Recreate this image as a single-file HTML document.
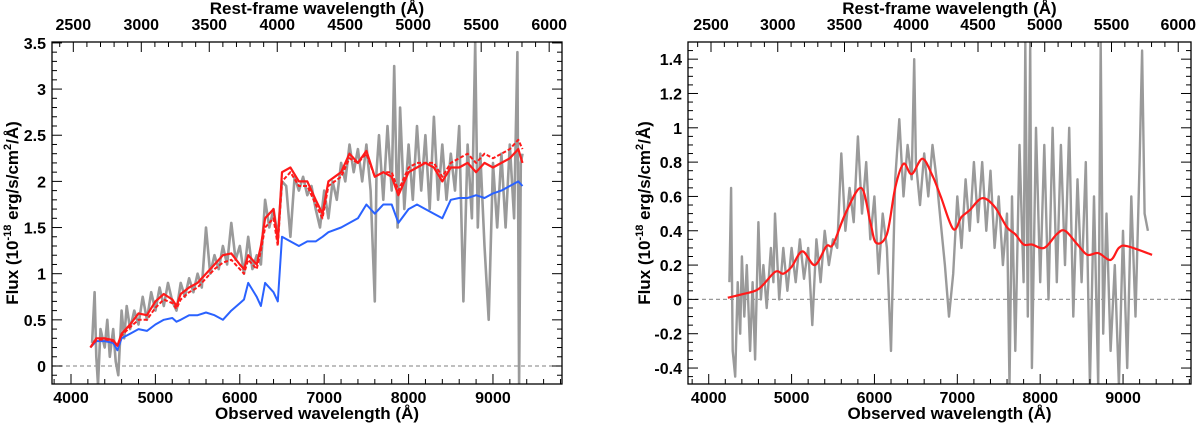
<!DOCTYPE html>
<html><head><meta charset="utf-8">
<style>
html,body{margin:0;padding:0;background:#fff;}
svg{display:block;font-family:"Liberation Sans",sans-serif;font-weight:bold;}
</style></head>
<body>
<svg id="chart" width="1200" height="423" viewBox="0 0 1200 423" xmlns="http://www.w3.org/2000/svg"></svg>
<script>
// ---------- data ----------
const z1 = 0.611;
const leftGrayWave=[4250,4280,4300,4320,4350,4400,4430,4460,4500,4530,4560,4600,4630,4660,4700,4750,4800,4850,4900,4950,5000,5050,5100,5150,5200,5250,5300,5350,5400,5450,5500,5550,5600,5650,5700,5750,5800,5850,5900,5950,6000,6050,6100,6150,6200,6250,6300,6350,6400,6450,6500,6550,6600,6650,6700,6750,6800,6850,6900,6950,7000,7050,7100,7150,7200,7250,7300,7350,7400,7450,7500,7550,7600,7620,7650,7700,7750,7800,7830,7870,7900,7950,8000,8050,8100,8150,8200,8250,8300,8350,8400,8450,8500,8550,8600,8650,8700,8750,8790,8820,8850,8900,8950,9000,9050,9100,9150,9200,9250,9290,9310,9330,9350];
const leftGrayFlux=[0.25,0.8,0.1,-0.2,0.4,0.2,0.5,0.1,0.4,0.05,-0.1,0.6,0.3,0.65,0.4,0.6,0.45,0.75,0.5,0.8,0.6,0.85,0.65,0.9,0.7,0.6,0.9,0.75,0.95,0.8,1.0,0.85,1.5,1.0,1.2,1.05,1.3,1.1,1.55,1.15,1.3,1.0,1.4,1.05,1.2,1.1,1.8,1.5,1.7,1.4,2.0,1.95,1.4,2.05,1.9,2.05,1.85,1.95,1.7,1.5,1.9,1.6,2.0,1.8,2.2,2.0,2.4,2.1,2.35,2.0,2.4,1.9,0.7,2.1,2.5,1.8,2.6,1.9,3.25,1.5,2.8,1.7,2.4,1.8,2.6,1.9,2.5,1.7,2.7,1.8,2.4,1.8,2.3,1.9,2.6,0.7,2.4,1.6,3.5,1.5,2.3,1.3,0.5,2.2,1.5,2.3,1.5,2.4,1.6,3.4,-0.2,2.2,2.3];
const redWave=[4230,4300,4400,4500,4550,4600,4700,4800,4900,5000,5100,5200,5250,5300,5400,5500,5600,5700,5800,5900,6000,6050,6100,6200,6250,6300,6400,6450,6500,6600,6700,6800,6900,6980,7050,7200,7300,7400,7500,7600,7700,7800,7880,8000,8100,8200,8300,8400,8500,8600,8700,8800,8900,9000,9100,9200,9300,9350];
const redFlux=[0.2,0.3,0.3,0.28,0.22,0.35,0.45,0.57,0.55,0.7,0.78,0.72,0.65,0.78,0.85,0.9,1.0,1.1,1.2,1.22,1.1,1.05,1.2,1.1,1.3,1.6,1.7,1.35,2.1,2.15,2.0,2.0,1.8,1.65,2.0,2.1,2.3,2.2,2.33,2.05,2.1,2.05,1.85,2.1,2.15,2.2,2.15,2.0,2.15,2.15,2.2,2.1,2.2,2.15,2.2,2.25,2.35,2.2];
const redDashFlux=[0.2,0.28,0.29,0.27,0.22,0.33,0.42,0.5,0.5,0.63,0.72,0.68,0.62,0.72,0.8,0.85,0.95,1.05,1.12,1.15,1.05,1.0,1.15,1.05,1.25,1.5,1.6,1.3,2.0,2.1,1.95,1.95,1.75,1.6,1.95,2.05,2.25,2.2,2.3,2.05,2.1,2.1,1.9,2.15,2.2,2.2,2.2,2.05,2.2,2.25,2.3,2.2,2.3,2.25,2.3,2.35,2.45,2.35];
const blueFlux=[0.2,0.27,0.27,0.25,0.17,0.3,0.35,0.4,0.38,0.45,0.5,0.52,0.48,0.5,0.55,0.55,0.58,0.55,0.5,0.6,0.68,0.72,0.9,0.75,0.65,0.9,0.8,0.7,1.4,1.35,1.3,1.35,1.35,1.4,1.45,1.5,1.55,1.6,1.75,1.65,1.75,1.75,1.55,1.7,1.75,1.7,1.65,1.6,1.8,1.82,1.82,1.85,1.82,1.87,1.9,1.95,2.0,1.95];

const rightGrayWave=[4250,4270,4290,4320,4350,4380,4400,4430,4460,4500,4530,4560,4600,4630,4660,4700,4750,4780,4800,4850,4900,4950,5000,5050,5100,5150,5200,5250,5300,5350,5400,5450,5500,5550,5600,5650,5700,5750,5800,5850,5900,5950,6000,6050,6100,6150,6200,6250,6300,6350,6400,6450,6480,6500,6550,6600,6650,6700,6750,6800,6850,6900,6950,7000,7050,7100,7150,7200,7250,7300,7350,7400,7450,7500,7550,7600,7630,7660,7700,7750,7800,7820,7850,7880,7900,7950,8000,8050,8100,8150,8200,8250,8300,8350,8400,8450,8500,8550,8600,8650,8700,8730,8760,8800,8850,8900,8950,9000,9050,9100,9150,9200,9230,9260,9300];
const rightGrayFlux=[0.1,0.65,-0.3,-0.45,0.1,-0.2,0.25,-0.1,0.2,-0.3,0.1,-0.35,0.45,0.0,0.2,-0.05,0.3,0.1,0.5,0.0,0.3,0.05,0.3,0.1,0.35,0.12,0.3,-0.15,0.35,0.1,0.4,0.2,0.35,0.3,0.85,0.4,0.65,0.45,0.95,0.5,0.8,0.35,0.6,0.15,0.5,0.3,-0.3,0.7,1.05,0.6,0.9,0.7,1.4,0.8,0.55,0.85,0.6,0.9,0.7,0.45,0.2,-0.1,0.15,0.6,0.3,0.7,0.4,0.8,0.45,0.8,0.4,0.75,0.3,0.6,0.2,0.5,-0.5,0.6,-0.3,0.9,0.1,1.5,-0.1,1.5,-0.4,1.0,0.1,0.9,0.0,1.0,0.1,0.9,0.2,1.0,-0.1,0.7,0.1,0.8,-0.5,0.6,-0.5,1.5,-0.2,0.5,-0.3,0.2,-0.5,0.4,-0.4,0.6,-0.1,0.8,1.45,0.5,0.4];
const smoothWave=[4230,4400,4600,4800,4900,5000,5130,5280,5420,5500,5650,5840,5950,6020,6150,6250,6350,6450,6580,6700,6800,6950,7050,7150,7300,7450,7600,7700,7800,7900,8050,8200,8300,8450,8570,8700,8850,8950,9050,9350];
const smoothFlux=[0.01,0.03,0.06,0.16,0.15,0.19,0.28,0.2,0.31,0.32,0.5,0.65,0.45,0.33,0.38,0.65,0.79,0.73,0.82,0.72,0.6,0.41,0.48,0.52,0.59,0.54,0.42,0.38,0.32,0.32,0.3,0.38,0.4,0.32,0.26,0.27,0.23,0.3,0.31,0.26];

const leftYTicks=[0,0.5,1,1.5,2,2.5,3,3.5];
const leftYLabels=["0","0.5","1","1.5","2","2.5","3","3.5"];
const rightYTicks=[-0.4,-0.2,0,0.2,0.4,0.6,0.8,1,1.2,1.4];
const rightYLabels=["-0.4","-0.2","0","0.2","0.4","0.6","0.8","1","1.2","1.4"];
const xTicks=[4000,5000,6000,7000,8000,9000];
const restTicks=[2500,3000,3500,4000,4500,5000,5500,6000];

// ---------- drawing ----------
const svg=document.getElementById('chart');
const NS='http://www.w3.org/2000/svg';
function mk(tag,attrs,parent){const e=document.createElementNS(NS,tag);for(const k in attrs)e.setAttribute(k,attrs[k]);(parent||svg).appendChild(e);return e;}
function txt(s,x,y,size,anchor,parent){const t=mk('text',{x:x,y:y,'font-size':size,'text-anchor':anchor||'middle',fill:'#000'},parent);t.textContent=s;return t;}
function smoothPath(p){
  let d='M'+p[0][0].toFixed(1)+','+p[0][1].toFixed(1);
  for(let i=0;i<p.length-1;i++){
    const p0=p[Math.max(0,i-1)],p1=p[i],p2=p[i+1],p3=p[Math.min(p.length-1,i+2)];
    const c1x=p1[0]+(p2[0]-p0[0])/6,c1y=p1[1]+(p2[1]-p0[1])/6;
    const c2x=p2[0]-(p3[0]-p1[0])/6,c2y=p2[1]-(p3[1]-p1[1])/6;
    d+=' C'+c1x.toFixed(1)+','+c1y.toFixed(1)+' '+c2x.toFixed(1)+','+c2y.toFixed(1)+' '+p2[0].toFixed(1)+','+p2[1].toFixed(1);
  }
  return d;
}

function panel(cfg){
  const g=mk('g',{});
  
  
  const X=w=>cfg.L+(w-cfg.xmin)/(cfg.xmax-cfg.xmin)*(cfg.R-cfg.L);
  const Y=v=>cfg.B-(v-cfg.ymin)/(cfg.ymax-cfg.ymin)*(cfg.B-cfg.T);
  const clip='clip-'+cfg.name;
  const cp=mk('clipPath',{id:clip},g);mk('rect',{x:cfg.L,y:cfg.T,width:cfg.R-cfg.L,height:cfg.B-cfg.T},cp);
  const plot=mk('g',{'clip-path':'url(#'+clip+')'},g);
  const zl=mk('line',{x1:cfg.L,x2:cfg.R,y1:Y(0),y2:Y(0),stroke:'#999','stroke-width':1.2,'stroke-dasharray':'4,3'},plot);
  
  
  cfg.series.forEach(s=>{
    const pp=s.w.map((w,i)=>[X(w),Y(s.f[i])]);
    let p;
    if(s.smooth){
      p=mk('path',{d:smoothPath(pp),fill:'none',stroke:s.color,'stroke-width':s.width},plot);
    } else {
      p=mk('polyline',{points:pp.map(q=>q[0].toFixed(1)+','+q[1].toFixed(1)).join(' '),fill:'none',stroke:s.color,'stroke-width':s.width,'stroke-linejoin':'round'},plot);
    }
    if(s.dash)p.setAttribute('stroke-dasharray',s.dash);
    
    
  });
  const fr=mk('rect',{x:cfg.L,y:cfg.T,width:cfg.R-cfg.L,height:cfg.B-cfg.T,fill:'none',stroke:'#000','stroke-width':1.3},g);
  
  
  const tk=mk('g',{stroke:'#000','stroke-width':1},g);
  for(let w=3800;w<=cfg.xmax;w+=200){const x=X(w);if(x<cfg.L)continue;const len=(w%1000===0)?10:5;mk('line',{x1:x,x2:x,y1:cfg.B,y2:cfg.B-len},tk);}
  xTicks.forEach(w=>{const t=txt(String(w),X(w),cfg.B+19,16,'middle',g);});
  for(let r=2400;r<=6100;r+=100){const x=X(r*(1+z1));if(x<cfg.L||x>cfg.R)continue;const len=(r%500===0)?10:5;mk('line',{x1:x,x2:x,y1:cfg.T,y2:cfg.T+len},tk);}
  restTicks.forEach(r=>{const t=txt(String(r),X(r*(1+z1)),cfg.T-12,16,'middle',g);});
  for(let v=Math.ceil(cfg.ymin/cfg.minor)*cfg.minor;v<=cfg.ymax+1e-9;v+=cfg.minor){const y=Y(v);const major=cfg.yTicks.some(t=>Math.abs(t-v)<1e-6);const len=major?10:5;mk('line',{x1:cfg.L,x2:cfg.L+len,y1:y,y2:y},tk);mk('line',{x1:cfg.R,x2:cfg.R-len,y1:y,y2:y},tk);}
  cfg.yTicks.forEach((v,i)=>{const t=txt(cfg.yLabels[i],cfg.L-6,Y(v)+6,16,'end',g);});
  const xt=txt('Observed wavelength (Å)',(cfg.L+cfg.R)/2+10,cfg.B+35,17,'middle',g);
  
  const tt=txt('Rest-frame wavelength (Å)',(cfg.L+cfg.R)/2+10,14,17,'middle',g);
  
  const yt=mk('text',{transform:'translate('+(cfg.yTitleX)+','+((cfg.T+cfg.B)/2)+') rotate(-90)','font-size':17,'text-anchor':'middle',fill:'#000'},g);
  yt.innerHTML='Flux (10<tspan font-size="11" dy="-7">-18</tspan><tspan dy="7"> erg/s/cm</tspan><tspan font-size="11" dy="-7">2</tspan><tspan dy="7">/Å)</tspan>';
  
}

panel({name:'left-panel',L:52,R:562,T:42,B:384,xmin:3775,xmax:9818,ymin:-0.195,ymax:3.51,minor:0.1,
  yTicks:leftYTicks,yLabels:leftYLabels,yTitleX:18,
  series:[
    {name:'observed-spectrum',w:leftGrayWave,f:leftGrayFlux,color:'#9a9a9a',width:2.6},
    {name:'blue-model',w:redWave,f:blueFlux,color:'#2a62ff',width:2},
    {name:'red-model-dashed',w:redWave,f:redDashFlux,color:'#ff1a1a',width:2,dash:'4,2'},
    {name:'red-model',w:redWave,f:redFlux,color:'#ff1a1a',width:2.2}
  ]});
panel({name:'right-panel',L:688,R:1191,T:42,B:384,xmin:3750,xmax:9820,ymin:-0.493,ymax:1.5,minor:0.05,
  yTicks:rightYTicks,yLabels:rightYLabels,yTitleX:650,
  series:[
    {name:'residual-spectrum',w:rightGrayWave,f:rightGrayFlux,color:'#9a9a9a',width:2.4},
    {name:'smooth-fit',w:smoothWave,f:smoothFlux,color:'#ff1a1a',width:2.2,smooth:true}
  ]});
</script>
</body></html>
